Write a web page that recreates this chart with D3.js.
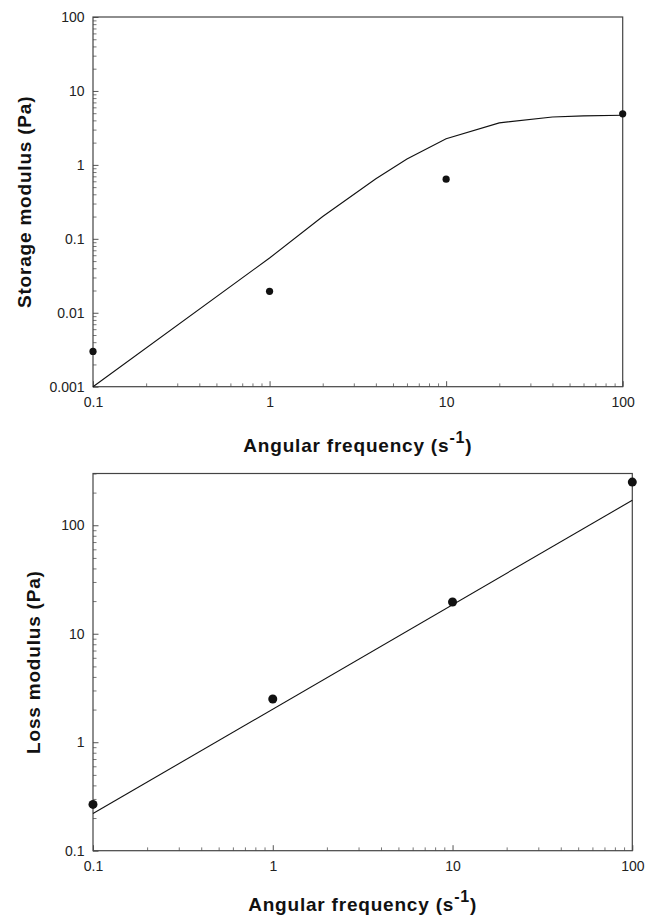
<!DOCTYPE html>
<html>
<head>
<meta charset="utf-8">
<script src="https://cdn.jsdelivr.net/npm/d3@7"></script>
<style>
    body { margin: 0; background: #fff; }
    svg { display: block; }
</style>
</head>
<body>
<svg id="chart" width="651" height="923"></svg>
<script>
// Angular frequency of the measured points (s-1)
var omega = [0.1, 1, 10, 100];
// Measured storage modulus (Pa)
var storageObs = [0.003, 0.0195, 0.64, 4.9];
// Model curve for the storage modulus
var storageFitOmega = [0.1, 1, 2, 4, 6, 10, 20, 40, 60, 100];
var storageFit = [0.001, 0.055, 0.2, 0.65, 1.2, 2.25, 3.7, 4.45, 4.6, 4.7];
// Measured loss modulus (Pa)
var lossObs = [0.267, 2.5, 19.6, 250];
// Model line for the loss modulus
var lossFitOmega = [0.1, 100];
var lossFit = [0.22, 170];

// Major tick labels
var xMajor = [0.1, 1, 10, 100];
var storageMajor = [0.001, 0.01, 0.1, 1, 10, 100];
var lossMajor = [0.1, 1, 10, 100];

var svg = d3.select("#chart");
var font = "'Liberation Sans', Arial, sans-serif";

// Is the value a power of ten
function isDecade(d) {
    var l = Math.log10(d);
    return Math.abs(l - Math.round(l)) < 1e-6;
}

// Draw one panel
function drawPanel(p) {

    var x = d3.scaleLog().domain(p.xDomain).range(p.xRange);
    var y = d3.scaleLog().domain(p.yDomain).range(p.yRange);

    var g = svg.append("g");

    // The minor ticks, no labels
    var xMinor = x.ticks().filter(function (d) { return !isDecade(d); });
    var yMinor = y.ticks().filter(function (d) { return !isDecade(d); });

    g.append("g")
        .attr("transform", "translate(0," + p.yRange[0] + ")")
        .attr("color", "#777")
        .call(d3.axisBottom(x).tickValues(xMinor).tickSize(-3.3).tickFormat(""))
        .call(function (a) { a.select(".domain").remove(); });

    g.append("g")
        .attr("transform", "translate(" + p.xRange[0] + ",0)")
        .attr("color", "#777")
        .call(d3.axisLeft(y).tickValues(yMinor).tickSize(-3.5).tickFormat(""))
        .call(function (a) { a.select(".domain").remove(); });

    // The major ticks with labels
    g.append("g")
        .attr("transform", "translate(0," + p.yRange[0] + ")")
        .attr("color", "#555")
        .call(d3.axisBottom(x).tickValues(xMajor).tickSize(-5.5).tickPadding(10.5)
            .tickFormat(function (d) { return String(d); }))
        .call(function (a) {
            a.select(".domain").remove();
            a.selectAll("text")
                .attr("fill", "#222")
                .style("font-family", font)
                .style("font-size", "14px");
        });

    g.append("g")
        .attr("transform", "translate(" + p.xRange[0] + ",0)")
        .attr("color", "#555")
        .call(d3.axisLeft(y).tickValues(p.yMajor).tickSize(-5.5).tickPadding(8.5)
            .tickFormat(function (d) { return String(d); }))
        .call(function (a) {
            a.select(".domain").remove();
            a.selectAll("text")
                .attr("fill", "#222")
                .style("font-family", font)
                .style("font-size", "14px");
        });

    // Frame round the plot
    g.append("rect")
        .attr("x", p.xRange[0])
        .attr("y", p.yRange[1])
        .attr("width", p.xRange[1] - p.xRange[0])
        .attr("height", p.yRange[0] - p.yRange[1])
        .style("fill", "none")
        .style("stroke", "#444")
        .style("stroke-width", 1.2);

    // The model line
    var line = d3.line()
        .x(function (d) { return x(d[0]); })
        .y(function (d) { return y(d[1]); });

    g.append("path")
        .datum(d3.zip(p.fitX, p.fitY))
        .attr("d", line)
        .style("fill", "none")
        .style("stroke", "#111")
        .style("stroke-width", 1.1);

    // The measured points
    g.selectAll(".pt")
        .data(d3.zip(p.obsX, p.obsY))
        .enter()
        .append("circle")
        .attr("cx", function (d) { return x(d[0]); })
        .attr("cy", function (d) { return y(d[1]); })
        .attr("r", p.r)
        .style("fill", "#111");

    // X title with the superscript unit
    var xt = g.append("text")
        .attr("x", (p.xRange[0] + p.xRange[1]) / 2)
        .attr("y", p.xTitleY)
        .attr("text-anchor", "middle")
        .attr("fill", "#111")
        .style("font-family", font)
        .style("font-weight", "bold")
        .style("font-size", "19px")
        .style("letter-spacing", "0.8px");
    xt.append("tspan").text("Angular frequency (s");
    xt.append("tspan").attr("dy", -9).style("font-size", "16px").text("-1");
    xt.append("tspan").attr("dy", 9).text(")");

    // Y title
    g.append("text")
        .attr("transform", "translate(" + p.yTitleX + "," + ((p.yRange[0] + p.yRange[1]) / 2) + ") rotate(-90)")
        .attr("text-anchor", "middle")
        .attr("fill", "#111")
        .style("font-family", font)
        .style("font-weight", "bold")
        .style("font-size", "19px")
        .style("letter-spacing", "0.8px")
        .text(p.yTitle);
}

drawPanel({
    xDomain: [0.1, 100], xRange: [93, 622.7],
    yDomain: [0.001, 100], yRange: [386.7, 17],
    yMajor: storageMajor,
    fitX: storageFitOmega, fitY: storageFit,
    obsX: omega, obsY: storageObs, r: 3.6,
    xTitleY: 452, yTitleX: 31,
    yTitle: "Storage modulus (Pa)"
});

drawPanel({
    xDomain: [0.1, 100], xRange: [93, 632.3],
    yDomain: [0.1, 300], yRange: [850.7, 473.5],
    yMajor: lossMajor,
    fitX: lossFitOmega, fitY: lossFit,
    obsX: omega, obsY: lossObs, r: 4.5,
    xTitleY: 911, yTitleX: 40,
    yTitle: "Loss modulus (Pa)"
});
</script>
</body>
</html>
